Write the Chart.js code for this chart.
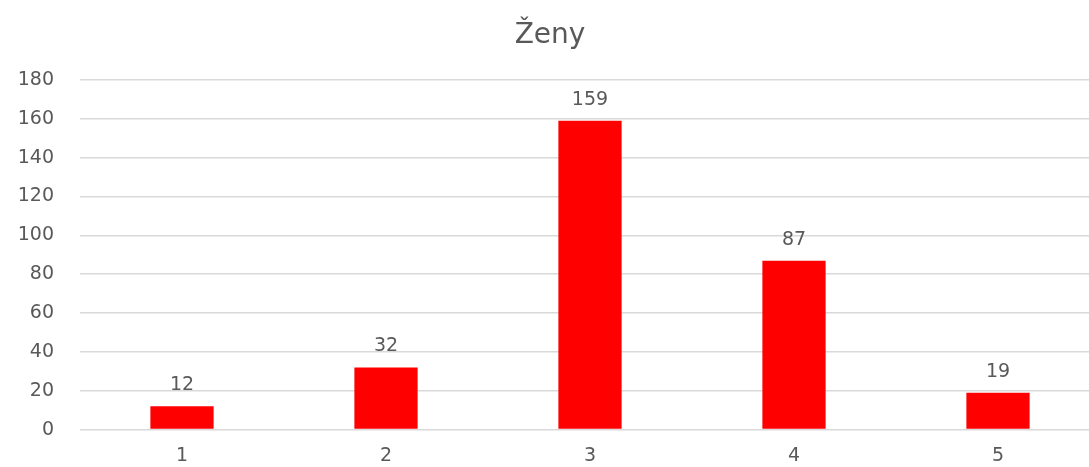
<!DOCTYPE html>
<html>
<head>
<meta charset="utf-8">
<script src="https://cdn.jsdelivr.net/npm/chart.js@4/dist/chart.umd.min.js"></script>
<style>
  html, body { margin: 0; padding: 0; background: #fff; overflow: hidden; }
  #wrap { width: 1100px; height: 467px; }
</style>
</head>
<body>
<div id="wrap"><canvas id="c" width="1100" height="467"></canvas></div>
<script>
const chartTitle = "Ženy";
const categories = ["1", "2", "3", "4", "5"];
const values = [12, 32, 159, 87, 19];
const yTicks = [0, 20, 40, 60, 80, 100, 120, 140, 160, 180];

const textColor = "#595959";
const fontFamily = "'DejaVu Sans', sans-serif";

const valueLabels = {
  id: "valueLabels",
  afterDatasetsDraw(chart) {
    const ctx = chart.ctx;
    const meta = chart.getDatasetMeta(0);
    ctx.save();
    ctx.fillStyle = textColor;
    ctx.font = "19px " + fontFamily;
    ctx.textAlign = "center";
    ctx.textBaseline = "middle";
    meta.data.forEach((bar, i) => {
      ctx.fillText(String(values[i]), bar.x, bar.y - 21);
    });
    ctx.restore();
  }
};

new Chart(document.getElementById("c"), {
  type: "bar",
  data: {
    labels: categories,
    datasets: [{
      data: values,
      backgroundColor: "#ff0000",
      borderWidth: 0,
      categoryPercentage: 1,
      barPercentage: 0.31
    }]
  },
  options: {
    responsive: false,
    animation: false,
    layout: { padding: 0 },
    plugins: {
      legend: { display: false },
      tooltip: { enabled: false },
      title: {
        display: true,
        text: chartTitle,
        color: textColor,
        font: { family: fontFamily, size: 28, weight: "normal" },
        padding: { top: 19, bottom: 27.4 }
      }
    },
    scales: {
      x: {
        grid: { display: false, drawTicks: false },
        border: { display: true, color: "#d9d9d9", width: 1 },
        ticks: { color: textColor, font: { family: fontFamily, size: 19 }, padding: 15 },
        afterFit(scale) { scale.height = 35; }
      },
      y: {
        min: 0,
        max: 180,
        afterBuildTicks(scale) { scale.ticks = yTicks.map(v => ({ value: v })); },
        grid: { color: "#d9d9d9", drawTicks: false, lineWidth: 1.5 },
        border: { display: false },
        ticks: { color: textColor, font: { family: fontFamily, size: 19 }, padding: 26 },
        afterFit(scale) { scale.width = 80; }
      }
    }
  },
  plugins: [valueLabels]
});
</script>
</body>
</html>
